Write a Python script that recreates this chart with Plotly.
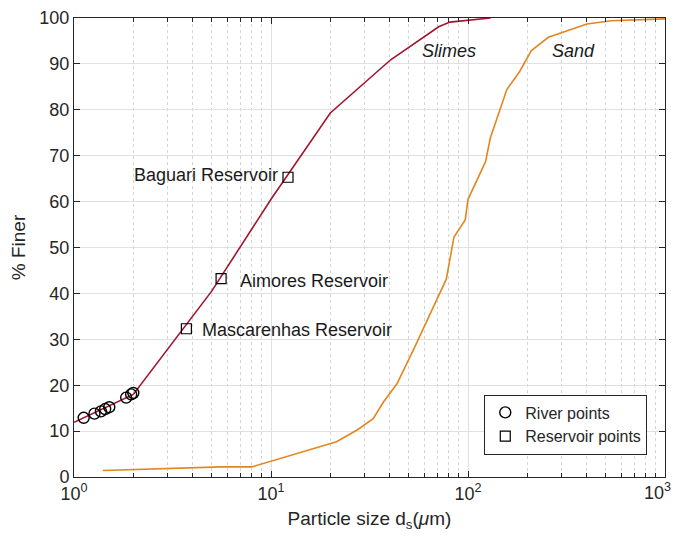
import plotly.graph_objects as go
import numpy as np

# Slimes gradation curve
slimes_x = [1.0, 2.0, 5.0, 10.0, 20.0, 40.5, 71.0, 81.0, 130.0]
slimes_y = [11.9, 18.0, 40.5, 60.5, 79.3, 90.9, 98.1, 99.1, 100.0]

# Sand gradation curve
sand_x = [1.4, 5.6, 8.0, 21.5, 27.5, 33.0, 37.3, 43.6, 54.3, 77.6, 84.9, 96.8, 100.0,
          122.8, 129.7, 157.4, 182.5, 209.8, 255.8, 401.0, 534.0, 1000.0]
sand_y = [1.4, 2.2, 2.2, 7.7, 10.3, 12.7, 16.4, 20.3, 28.8, 43.1, 52.3, 56.0, 60.5,
          68.7, 73.8, 84.4, 88.3, 92.9, 95.8, 98.7, 99.4, 99.8]

# River points (circles)
river_x = [1.12, 1.27, 1.37, 1.44, 1.51, 1.84, 1.95, 2.0]
river_y = [12.9, 13.8, 14.3, 14.8, 15.2, 17.3, 18.0, 18.3]

# Reservoir points (squares)
res_names = ["Baguari Reservoir", "Aimores Reservoir", "Mascarenhas Reservoir"]
res_x = [12.2, 5.58, 3.72]
res_y = [65.3, 43.2, 32.3]

x_tickvals = [1, 10, 100, 1000]
x_ticktext = ["10<sup>0</sup>", "10<sup>1</sup>", "10<sup>2</sup>", "10<sup>3</sup>"]
y_tickvals = list(range(0, 101, 10))

FONT = "Liberation Sans, Arial, sans-serif"

fig = go.Figure()
fig.add_trace(go.Scatter(x=slimes_x, y=slimes_y, mode="lines",
                         line=dict(color="#A2142F", width=1.6), showlegend=False))
fig.add_trace(go.Scatter(x=sand_x, y=sand_y, mode="lines",
                         line=dict(color="#E3861F", width=1.6), showlegend=False))
fig.add_trace(go.Scatter(x=river_x, y=river_y, mode="markers", name="River points",
                         marker=dict(symbol="circle-open", size=11, color="black",
                                     line=dict(width=1.4, color="black"))))
fig.add_trace(go.Scatter(x=res_x, y=res_y, mode="markers", name="Reservoir points",
                         marker=dict(symbol="square-open", size=10, color="black",
                                     line=dict(width=1.2, color="black"))))

# Reservoir labels
fig.add_annotation(x=np.log10(res_x[0]), y=res_y[0], text=res_names[0], showarrow=False,
                   xanchor="right", xshift=-8, yshift=2, font=dict(size=18, color="#1a1a1a"))
fig.add_annotation(x=np.log10(res_x[1]), y=res_y[1], text=res_names[1], showarrow=False,
                   xanchor="left", xshift=17, yshift=-2, font=dict(size=18, color="#1a1a1a"))
fig.add_annotation(x=np.log10(res_x[2]), y=res_y[2], text=res_names[2], showarrow=False,
                   xanchor="left", xshift=14, yshift=-1, font=dict(size=18, color="#1a1a1a"))
fig.add_annotation(x=np.log10(80), y=92.9, text="<i>Slimes</i>", showarrow=False,
                   font=dict(size=18, color="#1a1a1a"))
fig.add_annotation(x=np.log10(343), y=92.9, text="<i>Sand</i>", showarrow=False,
                   font=dict(size=18, color="#1a1a1a"))

# last x tick label drawn right-aligned at the figure edge so it is not clipped
fig.add_annotation(x=np.log10(x_tickvals[-1]), y=0, xref="x", yref="paper",
                   text=x_ticktext[-1], showarrow=False, xanchor="right", yanchor="top",
                   xshift=8, yshift=-1,
                   font=dict(size=18, color="#262626", family=FONT))

fig.update_xaxes(type="log", range=[0, 3], tickvals=x_tickvals,
                 ticktext=x_ticktext[:-1] + [""],
                 automargin=False,
                 showline=True, linecolor="#262626", linewidth=1, mirror="ticks",
                 ticks="inside", ticklen=6, tickcolor="#262626",
                 showgrid=True, gridcolor="#e0e0e0", gridwidth=1,
                 minor=dict(dtick="D1", showgrid=True, gridcolor="#d4d4d4", griddash="dot",
                            ticks="inside", ticklen=4, tickcolor="#262626"),
                 zeroline=False,
                 tickfont=dict(size=18, color="#262626", family=FONT),
                 title=dict(text="Particle size d<sub>s</sub>(<i>μ</i>m)",
                            font=dict(size=19, color="#262626", family=FONT), standoff=9))
fig.update_yaxes(range=[0, 100], tickvals=y_tickvals, automargin=False,
                 showline=True, linecolor="#262626", linewidth=1, mirror="ticks",
                 ticks="inside", ticklen=6, tickcolor="#262626",
                 showgrid=True, gridcolor="#e0e0e0", gridwidth=1, zeroline=False,
                 tickfont=dict(size=18, color="#262626", family=FONT),
                 title=dict(text="% Finer", font=dict(size=19, color="#262626", family=FONT),
                            standoff=8))

fig.update_layout(
    width=664, height=526,
    margin=dict(l=66, r=7, t=10, b=57),
    plot_bgcolor="white", paper_bgcolor="white",
    font=dict(family=FONT, color="#262626"),
    legend=dict(x=0.97, y=0.049, xanchor="right", yanchor="bottom",
                bgcolor="white", bordercolor="#262626", borderwidth=1,
                font=dict(size=16, color="#262626", family=FONT),
                itemwidth=30, tracegroupgap=0),
)

fig.write_html("out.html")
